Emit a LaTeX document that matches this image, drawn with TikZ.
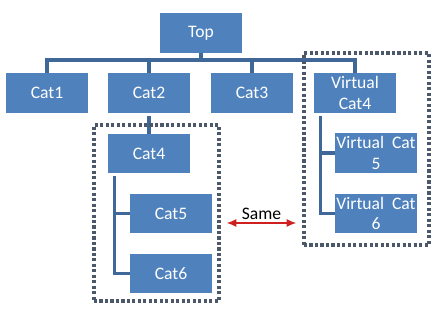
\documentclass[tikz,border=0pt]{standalone}
\usepackage{fontspec}
\setmainfont{Carlito}
\usetikzlibrary{arrows.meta,positioning,fit,calc}
\definecolor{boxfill}{HTML}{4F81BD}
\definecolor{linkc}{HTML}{3F6797}
\definecolor{grpc}{HTML}{4A5869}
\definecolor{samec}{HTML}{D01F1F}
\tikzset{
  figbase/.style={
    x=0.025cm, y=-0.025cm,
    font=\fontsize{12.5}{14.5}\selectfont,
    line join=miter,
  },
  cat/.style={
    fill=boxfill, text=white,
    minimum width=2.05cm, minimum height=0.98cm,
    inner sep=1pt, align=center,
  },
  link/.style={draw=linkc, line width=2.3pt},
  grp/.style={draw=grpc, line width=2.5pt, dash pattern=on 2.2pt off 1.7pt, inner sep=0pt},
  samearr/.style={{Latex[length=2.4mm,width=2mm]}-{Latex[length=2.4mm,width=2mm]}, draw=samec, line width=0.9pt},
}
\begin{document}
\begin{tikzpicture}[figbase]
  \useasboundingbox (0,0) rectangle (442,310);

  \node[cat] (top) at (201,33) {Top};

  \node[cat] (cat1) at (47,93) {Cat1};
  \node[cat] (cat2) at (149,93) {Cat2};
  \node[cat] (cat3) at (252,93) {Cat3};
  \node[cat] (vcat4) at (355,93) {Virtual\\Cat4};

  \draw[link] (top.south) -- ++(0,7) -| (cat1.north);
  \draw[link] (top.south) -- ++(0,7) -| (cat2.north);
  \draw[link] (top.south) -- ++(0,7) -| (cat3.north);
  \draw[link] (top.south) -- ++(0,7) -| (vcat4.north);

  % left branch
  \node[cat] (cat4) at (149,153.5) {Cat4};
  \node[cat] (cat5) at (171,213.5) {Cat5};
  \node[cat] (cat6) at (171,273.5) {Cat6};
  \draw[link] ([yshift=-0.08cm]cat2.south) -- (cat4.north);
  \draw[link] ($(cat4.south west)+(7,3)$) |- (cat5.west);
  \draw[link] ($(cat4.south west)+(7,3)$) |- (cat6.west);

  % right branch
  \node[cat] (vcat5) at (376,153) {Virtual~~Cat\\5};
  \node[cat] (vcat6) at (376,213.5) {Virtual~~Cat\\6};
  \draw[link] ($(vcat4.south west)+(7,3)$) |- (vcat5.west);
  \draw[link] ($(vcat4.south west)+(7,3)$) |- (vcat6.west);

  \node[grp, fit={(94,125) (219,301)}] (lgrp) {};
  \node[grp, fit={(304,53) (429,245)}] (rgrp) {};

  \coordinate (sl) at ($(lgrp.east)+(6,10)$);
  \coordinate (sr) at ($(rgrp.west |- sl)+(-6,0)$);
  \draw[samearr] (sl) -- node[above, text=black, inner sep=2pt] {Same} (sr);
\end{tikzpicture}
\end{document}
